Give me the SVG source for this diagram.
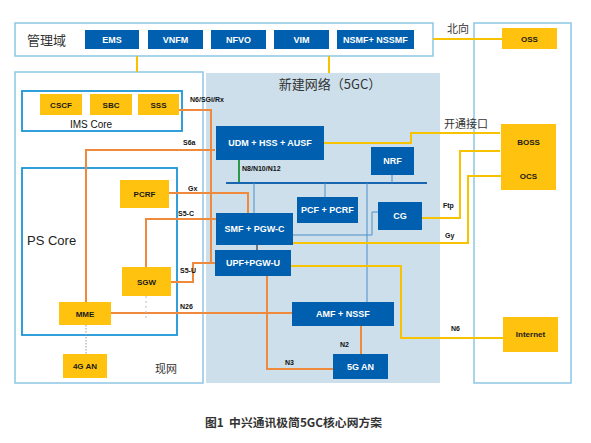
<svg xmlns="http://www.w3.org/2000/svg" width="591" height="443" viewBox="0 0 591 443">
<style>
.frame{fill:#fff;stroke:#8cc6e6;stroke-width:1.5}
.core{fill:none;stroke:#1b95d5;stroke-width:1.8}
.bn{fill:#005fae}
.yn{fill:#ffc20e}
.bt{font-family:"Liberation Sans",Arial,sans-serif;font-size:9px;fill:#fff;text-anchor:middle;font-weight:bold}
.yt{font-family:"Liberation Sans",Arial,sans-serif;font-size:8px;fill:#1a1a1a;text-anchor:middle;font-weight:bold}
.lbl{font-family:"Liberation Sans",Arial,sans-serif;font-size:7px;fill:#111;font-weight:bold}
.zh{font-family:"Noto Sans CJK SC","Liberation Sans",sans-serif;fill:#333}
.or{fill:none;stroke:#ef8a3c;stroke-width:2}
.ye{fill:none;stroke:#f7c200;stroke-width:2}
.tb{fill:none;stroke:#4a8fc8;stroke-width:1}
</style>
<rect width="591" height="443" fill="#fff"/>
<!-- containers -->
<g id="mgmt-domain">
<rect class="frame" x="15" y="23" width="418" height="33"/>
<text class="zh" x="27" y="45" font-size="13">管理域</text>
</g>
<g id="legacy-net">
<rect class="frame" x="15" y="72" width="188" height="311"/>
<text class="zh" x="155" y="373" font-size="11">现网</text>
</g>
<g id="new-5gc">
<rect x="206" y="73" width="234" height="310" fill="#cddfeb"/>
<text class="zh" x="330" y="89" font-size="13" text-anchor="middle">新建网络（5GC）</text>
</g>
<g id="north">
<rect class="frame" x="474" y="23" width="97" height="360"/>
</g>
<g id="ims-core">
<rect class="core" x="22" y="91" width="160" height="40"/>
<text x="91" y="128" font-family="Liberation Sans,Arial,sans-serif" font-size="10" fill="#111" text-anchor="middle">IMS Core</text>
</g>
<g id="ps-core">
<rect class="core" x="22" y="168" width="155" height="167"/>
<text x="27" y="245" font-family="Liberation Sans,Arial,sans-serif" font-size="13" fill="#222">PS Core</text>
</g>
<!-- connectors -->
<g id="connectors">
<path class="ye" d="M137 56V72M329 56V73" stroke-width="1.5"/>
<path class="ye" d="M433 39H502" stroke-width="1.5"/>
<path class="or" d="M179 110H211V263"/>
<path class="or" d="M215 150H86V302"/>
<path class="or" d="M169 193H248V213"/>
<path class="or" d="M216 219H146V267"/>
<path class="or" d="M171 282H193V263H215"/>
<path class="or" d="M111 313H292"/>
<path class="or" d="M267 276V369H333"/>
<path class="or" d="M361 326V354"/>
<path d="M86 325V354" stroke="#999" stroke-width="1" stroke-dasharray="1.5,1.5"/>
<path d="M146 296V320" stroke="#bbb" stroke-width="1" stroke-dasharray="2,3"/>
<path d="M239 160V183" stroke="#2a9a48" stroke-width="2"/>
<path d="M226 183H427" stroke="#1a65b0" stroke-width="2"/>
<path class="tb" d="M392 175V183M254 183V213M325 183V197M367 183V302"/>
<path class="tb" d="M378 212H372V235H293"/>
<path d="M257 245V250" stroke="#555" stroke-width="1.5"/>
<path class="ye" d="M324 143H411V133H500"/>
<path class="ye" d="M422 218H460V151H500"/>
<path class="ye" d="M293 243H468V176H501"/>
<path class="ye" d="M291 266H401V338H503"/>
<text class="lbl" x="190" y="102">N6/SGi/Rx</text>
<text class="lbl" x="183" y="145">S6a</text>
<text class="lbl" x="188" y="191">Gx</text>
<text class="lbl" x="178" y="216">S5-C</text>
<text class="lbl" x="180" y="273">S5-U</text>
<text class="lbl" x="180" y="309">N26</text>
<text class="lbl" x="242" y="171">N8/N10/N12</text>
<text class="lbl" x="443" y="208">Ftp</text>
<text class="lbl" x="445" y="238">Gy</text>
<text class="lbl" x="451" y="331">N6</text>
<text class="lbl" x="340" y="347">N2</text>
<text class="lbl" x="285" y="365">N3</text>
<text class="zh" x="447" y="33" font-size="11">北向</text>
<text class="zh" x="444" y="128" font-size="11">开通接口</text>
</g>
<!-- nodes -->
<g id="EMS"><rect class="bn" x="85" y="30" width="54" height="19"/><text class="bt" x="112" y="43">EMS</text></g>
<g id="VNFM"><rect class="bn" x="148" y="30" width="55" height="19"/><text class="bt" x="175.5" y="43">VNFM</text></g>
<g id="NFVO"><rect class="bn" x="211" y="30" width="55" height="19"/><text class="bt" x="238.5" y="43">NFVO</text></g>
<g id="VIM"><rect class="bn" x="274" y="30" width="55" height="19"/><text class="bt" x="301.5" y="43">VIM</text></g>
<g id="NSMF"><rect class="bn" x="337" y="30" width="77" height="19"/><text class="bt" x="375.5" y="43">NSMF+ NSSMF</text></g>
<g id="OSS"><rect class="yn" x="502" y="28" width="55" height="21"/><text class="yt" x="529.5" y="41.5">OSS</text></g>
<g id="CSCF"><rect class="yn" x="40" y="94" width="42" height="21"/><text class="yt" x="61" y="108">CSCF</text></g>
<g id="SBC"><rect class="yn" x="90" y="94" width="42" height="21"/><text class="yt" x="111" y="108">SBC</text></g>
<g id="SSS"><rect class="yn" x="138" y="94" width="41" height="21"/><text class="yt" x="158.5" y="108">SSS</text></g>
<g id="PCRF"><rect class="yn" x="120" y="180" width="49" height="28"/><text class="yt" x="144.5" y="197">PCRF</text></g>
<g id="SGW"><rect class="yn" x="122" y="267" width="49" height="29"/><text class="yt" x="146.5" y="285">SGW</text></g>
<g id="MME"><rect class="yn" x="59" y="302" width="52" height="23"/><text class="yt" x="85" y="316.5">MME</text></g>
<g id="AN4G"><rect class="yn" x="63" y="354" width="44" height="24"/><text class="yt" x="85" y="369">4G AN</text></g>
<g id="UDM"><rect class="bn" x="216" y="126" width="108" height="34"/><text class="bt" x="270" y="146">UDM + HSS + AUSF</text></g>
<g id="NRF"><rect class="bn" x="371" y="147" width="43" height="28"/><text class="bt" x="392.5" y="164">NRF</text></g>
<g id="PCF"><rect class="bn" x="297" y="197" width="61" height="26"/><text class="bt" x="327.5" y="213">PCF + PCRF</text></g>
<g id="CG"><rect class="bn" x="378" y="202" width="44" height="28"/><text class="bt" x="400" y="219">CG</text></g>
<g id="SMF"><rect class="bn" x="216" y="213" width="77" height="32"/><text class="bt" x="254.5" y="232">SMF + PGW-C</text></g>
<g id="UPF"><rect class="bn" x="215" y="250" width="76" height="26"/><text class="bt" x="253" y="266">UPF+PGW-U</text></g>
<g id="AMF"><rect class="bn" x="292" y="302" width="102" height="24"/><text class="bt" x="343" y="317">AMF + NSSF</text></g>
<g id="AN5G"><rect class="bn" x="333" y="354" width="55" height="25"/><text class="bt" x="360.5" y="369.5">5G AN</text></g>
<g id="BOSS"><rect class="yn" x="501" y="124" width="55" height="34"/><text class="yt" x="528.5" y="145">BOSS</text></g>
<g id="OCS"><rect class="yn" x="501" y="157" width="55" height="33"/><text class="yt" x="528.5" y="179">OCS</text></g>
<g id="Internet"><rect class="yn" x="503" y="317" width="55" height="35"/><text class="yt" x="530.5" y="337">Internet</text></g>
<text class="zh" x="205" y="427" font-size="11.8" fill="#444" font-weight="bold" xml:space="preserve">图1  中兴通讯极简5GC核心网方案</text>
</svg>
